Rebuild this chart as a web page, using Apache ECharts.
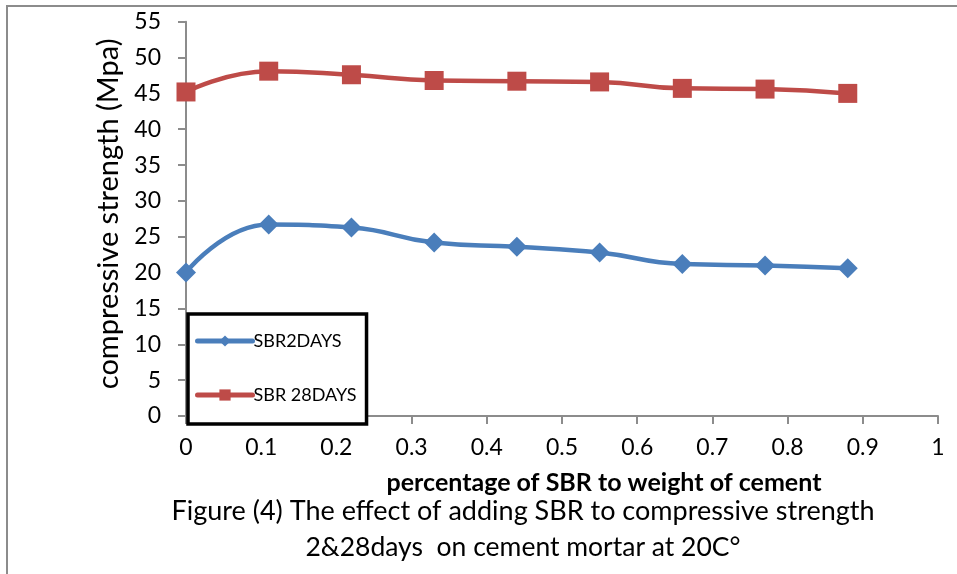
<!DOCTYPE html>
<html>
<head>
<meta charset="utf-8">
<script src="https://cdn.jsdelivr.net/npm/echarts@6/dist/echarts.min.js"></script>
<style>
  html, body { margin: 0; padding: 0; background: #fff; }
  #frame { position: absolute; left: 6px; top: 5px; width: 951px; height: 569px;
           border-top: 2px solid #8c8c8c; border-left: 2px solid #8c8c8c; box-sizing: border-box; }
  #chart { position: absolute; left: 0; top: 0; width: 957px; height: 574px; }
</style>
</head>
<body>
<div id="frame"></div>
<div id="chart"></div>
<script>
// SBR dosage (fraction of cement weight)
const sbrRatio = [0, 0.11, 0.22, 0.33, 0.44, 0.55, 0.66, 0.77, 0.88];
// Compressive strength, MPa
const strength2Days = [20.0, 26.7, 26.3, 24.2, 23.6, 22.8, 21.2, 21.0, 20.6];
const strength28Days = [45.2, 48.1, 47.6, 46.8, 46.7, 46.6, 45.7, 45.6, 45.0];
const seriesNames = ['SBR2DAYS', 'SBR 28DAYS'];

const FONT = 'Lato';
const pairs = (xs, ys) => xs.map((x, i) => [x, ys[i]]);

const chart = echarts.init(document.getElementById('chart'), null, { renderer: 'canvas' });
chart.setOption({
  animation: false,
  textStyle: { fontFamily: FONT, color: '#000' },
  grid: { left: 186, right: 19, top: 21.7, bottom: 158, containLabel: false },
  title: [
    { text: 'percentage of SBR to weight of cement', left: 599, top: 465, textAlign: 'center',
      textStyle: { fontFamily: FONT, fontSize: 25, fontWeight: 'bold', color: '#000' } },
    { text: 'Figure (4) The effect of adding SBR to compressive strength', left: 518, top: 493, textAlign: 'center',
      textStyle: { fontFamily: FONT, fontSize: 27, fontWeight: 'normal', color: '#000' } },
    { text: '2&28days  on cement mortar at 20C°', left: 518, top: 529, textAlign: 'center',
      textStyle: { fontFamily: FONT, fontSize: 26.5, fontWeight: 'normal', color: '#000' } }
  ],
  legend: {
    orient: 'vertical', left: 188, top: 314,
    data: seriesNames,
    itemWidth: 55, itemHeight: 14, itemGap: 36,
    padding: [18, 10, 20, 7],
    borderColor: '#000', borderWidth: 3.5, backgroundColor: '#fff',
    lineStyle: { width: 5, cap: 'round' },
    textStyle: { fontFamily: FONT, fontSize: 18, color: '#000', padding: [0, 0, 0, -4] }
  },
  xAxis: {
    type: 'value', min: 0, max: 1, interval: 0.1,
    axisLine: { lineStyle: { color: '#8c8c8c', width: 2 } },
    axisTick: { show: true, length: 8, lineStyle: { color: '#8c8c8c', width: 2 } },
    axisLabel: { fontFamily: FONT, fontSize: 23, color: '#000', margin: 20 },
    splitLine: { show: false }
  },
  yAxis: {
    type: 'value', min: 0, max: 55, interval: 5,
    name: 'compressive strength (Mpa)', nameLocation: 'middle', nameGap: 60,
    nameTextStyle: { fontFamily: FONT, fontSize: 29, color: '#000', padding: [0, 0, 0, 10] },
    axisLine: { show: true, lineStyle: { color: '#8c8c8c', width: 2 } },
    axisTick: { show: true, length: 8, lineStyle: { color: '#8c8c8c', width: 2 } },
    axisLabel: { fontFamily: FONT, fontSize: 23, color: '#000', margin: 25 },
    splitLine: { show: false }
  },
  series: [
    { name: seriesNames[0], type: 'line', data: pairs(sbrRatio, strength2Days),
      smooth: 0.5, symbol: 'diamond', symbolSize: 20,
      lineStyle: { color: '#4a7ebb', width: 4.5 }, itemStyle: { color: '#4a7ebb' } },
    { name: seriesNames[1], type: 'line', data: pairs(sbrRatio, strength28Days),
      smooth: 0.5, symbol: 'rect', symbolSize: 19,
      lineStyle: { color: '#be4b48', width: 4.5 }, itemStyle: { color: '#be4b48' } }
  ]
});
</script>
</body>
</html>
